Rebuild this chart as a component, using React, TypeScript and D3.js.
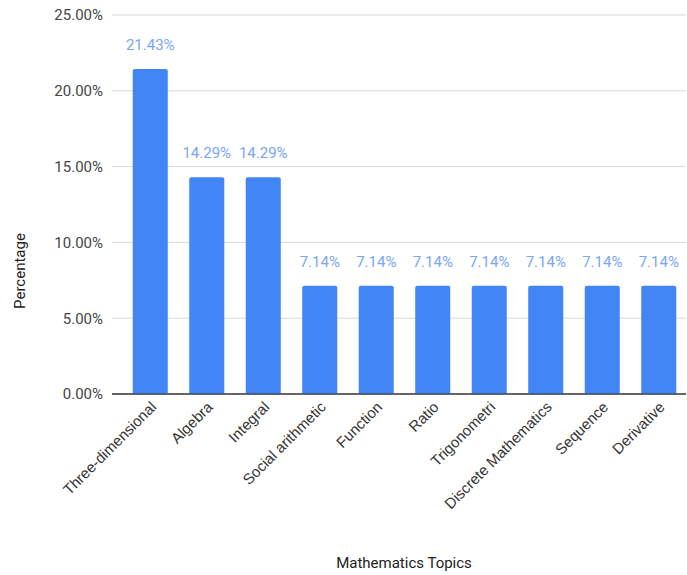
import React from "react";
import * as d3 from "d3";

const categories = ["Three-dimensional", "Algebra", "Integral", "Social arithmetic", "Function", "Ratio", "Trigonometri", "Discrete Mathematics", "Sequence", "Derivative"];
const values = [21.43, 14.29, 14.29, 7.14, 7.14, 7.14, 7.14, 7.14, 7.14, 7.14];
const yTicks = [0, 5, 10, 15, 20, 25];

export default function App() {
  const W = 687, H = 575;
  const x = d3.scaleBand<string>().domain(categories).range([122, 687]).paddingInner(0.38).paddingOuter(0.19);
  const y = d3.scaleLinear().domain([0, 25]).range([394, 15]);
  const font = "Roboto, Arial, sans-serif";
  return (
    <svg width={W} height={H} style={{ position: "absolute", left: 0, top: 0, background: "#fff" }}>
      {yTicks.map((t) => (
        <g key={t}>
          <line x1={112} x2={686} y1={y(t)} y2={y(t)} stroke={t === 0 ? "#333" : "#d9d9d9"} strokeWidth={1} />
          <text x={103} y={y(t)} dy="0.36em" textAnchor="end" fontSize={15} fill="#444" fontFamily={font}>
            {t.toFixed(2)}%
          </text>
        </g>
      ))}
      {categories.map((c, i) => {
        const bx = x(c)!;
        const bw = x.bandwidth();
        const top = y(values[i]);
        return (
          <g key={c}>
            <path
              d={`M${bx},${y(0)} V${top + 2} Q${bx},${top} ${bx + 2},${top} H${bx + bw - 2} Q${bx + bw},${top} ${bx + bw},${top + 2} V${y(0)} Z`}
              fill="#4285f4"
            />
            <text x={bx + bw / 2} y={top - 19} textAnchor="middle" fontSize={15} fill="#79a6f6" fontFamily={font}>
              {values[i].toFixed(2)}%
            </text>
            <text
              transform={`translate(${bx + bw / 2 + 7},${408}) rotate(-45)`}
              textAnchor="end"
              fontSize={15}
              fill="#333"
              fontFamily="Arial, 'Liberation Sans', sans-serif"
            >
              {c}
            </text>
          </g>
        );
      })}
      <line x1={112} x2={686} y1={y(0)} y2={y(0)} stroke="#333" strokeWidth={1} />
      <text x={404} y={568} textAnchor="middle" fontSize={15} fill="#222" fontFamily={font}>
        Mathematics Topics
      </text>
      <text transform={`translate(25,271) rotate(-90)`} textAnchor="middle" fontSize={15} fill="#222" fontFamily={font}>
        Percentage
      </text>
    </svg>
  );
}
